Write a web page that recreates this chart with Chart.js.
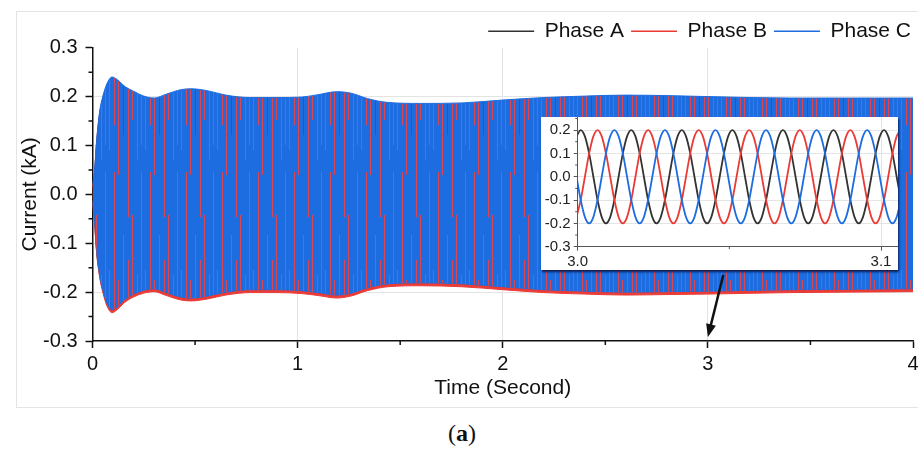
<!DOCTYPE html>
<html>
<head>
<meta charset="utf-8">
<script src="https://cdn.jsdelivr.net/npm/chart.js@4.4.1/dist/chart.umd.min.js"></script>
<style>
  html, body { margin: 0; padding: 0; background: #fff; overflow: hidden; }
  body { width: 918px; height: 450px; position: relative; font-family: "Liberation Sans", Arial, sans-serif; }
  #frame { position: absolute; left: 16px; top: 11px; width: 910px; height: 395px; border: 1px solid #e4e4e4; }
  #main { position: absolute; left: 0; top: 0; }
  #insetBox { position: absolute; left: 541px; top: 117px; width: 357px; height: 153px; background: #fff;
              box-shadow: 1px 2px 2px rgba(10, 20, 70, 0.9); }
  #inset { position: absolute; left: 0; top: 0; }
  #caption { position: absolute; left: 0; width: 924px; top: 420px; text-align: center;
             font: 24px "Liberation Serif", serif; color: #111; }
</style>
</head>
<body>
<div id="frame"></div>
<canvas id="main" width="918" height="410"></canvas>
<div id="insetBox"><canvas id="inset" width="357" height="153"></canvas></div>
<div id="caption">(<b>a</b>)</div>

<script>
// Phase currents, kA. Main plot: envelope of the fast oscillation over 0-4 s
const seriesNames = ['Phase A', 'Phase B', 'Phase C'];
const seriesColors = ['#333333', '#ea3b36', '#1d6de0'];

const envTime = [0, 0.01, 0.02, 0.035, 0.05, 0.07, 0.095, 0.12, 0.16, 0.2, 0.25, 0.3, 0.36, 0.43, 0.48, 0.56, 0.65, 0.77,
  0.9, 1.02, 1.1, 1.19, 1.26, 1.34, 1.44, 1.6, 1.8, 2.0, 2.2, 2.4, 2.6, 2.8, 3.0, 3.4, 3.7, 4.0];

const phaseAUpper = [0.014, 0.044, 0.104, 0.164, 0.194, 0.22, 0.234, 0.229, 0.214, 0.205, 0.195, 0.191, 0.199, 0.208, 0.21, 0.206, 0.197, 0.192,
  0.192, 0.193, 0.198, 0.204, 0.201, 0.19, 0.182, 0.18, 0.181, 0.187, 0.192, 0.195, 0.197, 0.196, 0.194, 0.191, 0.191, 0.191];
const phaseALower = [-0.016, -0.056, -0.116, -0.166, -0.196, -0.224, -0.238, -0.232, -0.216, -0.206, -0.198, -0.195, -0.203, -0.212, -0.214, -0.21, -0.202, -0.197,
  -0.197, -0.199, -0.203, -0.208, -0.204, -0.193, -0.185, -0.183, -0.185, -0.191, -0.197, -0.2, -0.202, -0.201, -0.2, -0.197, -0.196, -0.195];

const phaseBUpper = [0.016, 0.046, 0.106, 0.166, 0.196, 0.222, 0.236, 0.231, 0.216, 0.207, 0.197, 0.193, 0.201, 0.21, 0.212, 0.208, 0.199, 0.194,
  0.194, 0.195, 0.2, 0.206, 0.203, 0.192, 0.184, 0.182, 0.183, 0.189, 0.194, 0.197, 0.199, 0.198, 0.196, 0.193, 0.193, 0.193];
const phaseBLower = [-0.02, -0.06, -0.12, -0.17, -0.2, -0.228, -0.242, -0.236, -0.22, -0.21, -0.202, -0.199, -0.207, -0.216, -0.218, -0.214, -0.206, -0.201,
  -0.201, -0.203, -0.207, -0.212, -0.208, -0.197, -0.189, -0.187, -0.189, -0.195, -0.201, -0.204, -0.206, -0.205, -0.204, -0.201, -0.2, -0.199];

const phaseCUpper = [0.02, 0.05, 0.11, 0.17, 0.2, 0.226, 0.24, 0.235, 0.22, 0.211, 0.201, 0.197, 0.205, 0.214, 0.216, 0.212, 0.203, 0.198,
  0.198, 0.199, 0.204, 0.21, 0.207, 0.196, 0.188, 0.186, 0.187, 0.193, 0.198, 0.201, 0.203, 0.202, 0.2, 0.197, 0.197, 0.197];
const phaseCLower = [-0.014, -0.054, -0.114, -0.164, -0.194, -0.222, -0.236, -0.23, -0.214, -0.204, -0.196, -0.193, -0.201, -0.21, -0.212, -0.208, -0.2, -0.195,
  -0.195, -0.197, -0.201, -0.206, -0.202, -0.191, -0.183, -0.181, -0.183, -0.189, -0.195, -0.198, -0.2, -0.199, -0.198, -0.195, -0.194, -0.193];

// Inset: zoom on 3.0 - 3.1 s
const insetTime = [2.99960, 3.00099, 3.00238, 3.00377, 3.00516, 3.00654, 3.00793, 3.00932, 3.01071, 3.01210, 3.01349, 3.01488,
  3.01627, 3.01766, 3.01904, 3.02043, 3.02182, 3.02321, 3.02460, 3.02599, 3.02738, 3.02877, 3.03016, 3.03154,
  3.03293, 3.03432, 3.03571, 3.03710, 3.03849, 3.03988, 3.04127, 3.04266, 3.04404, 3.04543, 3.04682, 3.04821,
  3.04960, 3.05099, 3.05238, 3.05377, 3.05516, 3.05654, 3.05793, 3.05932, 3.06071, 3.06210, 3.06349, 3.06488,
  3.06627, 3.06766, 3.06904, 3.07043, 3.07182, 3.07321, 3.07460, 3.07599, 3.07738, 3.07877, 3.08016, 3.08154,
  3.08293, 3.08432, 3.08571, 3.08710, 3.08849, 3.08988, 3.09127, 3.09266, 3.09404, 3.09543, 3.09682, 3.09821,
  3.09960, 3.10099, 3.10238, 3.10377, 3.10516, 3.10654];

const insetA = [
  0.173, 0.2, 0.173, 0.1, 0, -0.1, -0.173, -0.2, -0.173, -0.1, 0, 0.1,
  0.173, 0.2, 0.173, 0.1, 0, -0.1, -0.173, -0.2, -0.173, -0.1, 0, 0.1,
  0.173, 0.2, 0.173, 0.1, 0, -0.1, -0.173, -0.2, -0.173, -0.1, 0, 0.1,
  0.173, 0.2, 0.173, 0.1, 0, -0.1, -0.173, -0.2, -0.173, -0.1, 0, 0.1,
  0.173, 0.2, 0.173, 0.1, 0, -0.1, -0.173, -0.2, -0.173, -0.1, 0, 0.1,
  0.173, 0.2, 0.173, 0.1, 0, -0.1, -0.173, -0.2, -0.173, -0.1, 0, 0.1,
  0.173, 0.2, 0.173, 0.1, 0, -0.1];
const insetB = [
  -0.173, -0.1, 0, 0.1, 0.173, 0.2, 0.173, 0.1, 0, -0.1, -0.173, -0.2,
  -0.173, -0.1, 0, 0.1, 0.173, 0.2, 0.173, 0.1, 0, -0.1, -0.173, -0.2,
  -0.173, -0.1, 0, 0.1, 0.173, 0.2, 0.173, 0.1, 0, -0.1, -0.173, -0.2,
  -0.173, -0.1, 0, 0.1, 0.173, 0.2, 0.173, 0.1, 0, -0.1, -0.173, -0.2,
  -0.173, -0.1, 0, 0.1, 0.173, 0.2, 0.173, 0.1, 0, -0.1, -0.173, -0.2,
  -0.173, -0.1, 0, 0.1, 0.173, 0.2, 0.173, 0.1, 0, -0.1, -0.173, -0.2,
  -0.173, -0.1, 0, 0.1, 0.173, 0.2];
const insetC = [
  0, -0.1, -0.173, -0.2, -0.173, -0.1, 0, 0.1, 0.173, 0.2, 0.173, 0.1,
  0, -0.1, -0.173, -0.2, -0.173, -0.1, 0, 0.1, 0.173, 0.2, 0.173, 0.1,
  0, -0.1, -0.173, -0.2, -0.173, -0.1, 0, 0.1, 0.173, 0.2, 0.173, 0.1,
  0, -0.1, -0.173, -0.2, -0.173, -0.1, 0, 0.1, 0.173, 0.2, 0.173, 0.1,
  0, -0.1, -0.173, -0.2, -0.173, -0.1, 0, 0.1, 0.173, 0.2, 0.173, 0.1,
  0, -0.1, -0.173, -0.2, -0.173, -0.1, 0, 0.1, 0.173, 0.2, 0.173, 0.1,
  0, -0.1, -0.173, -0.2, -0.173, -0.1];

// axis ticks
const xMinorTicks = [0.5, 1.5, 2.5, 3.5];
const yMinorTicks = [-0.25, -0.15, -0.05, 0.05, 0.15, 0.25];
const insetXTicks = [3.0, 3.1];
const insetYTicks = [-0.3, -0.2, -0.1, 0, 0.1, 0.2];
const insetXMinorTicks = [3.05];
const insetYMinorTicks = [-0.25, -0.15, -0.05, 0.05, 0.15, 0.25];

// arrow from inset down to t = 3 s
const arrowFrom = [3.075, -0.165];
const arrowTo = [3.0, -0.292];

Chart.defaults.font.family = '"Liberation Sans", Arial, sans-serif';
Chart.defaults.color = '#111';

const CLEAR = 'rgba(0,0,0,0)';

function points(xs, ys) {
    return xs.map((x, i) => ({ x: x, y: ys[i] }));
}

// streaky texture for the blue band (the aliased look of the dense 60 Hz wave).
// columns of red streaks, longer near the band edges, a few running through the middle
const streakCols = [1, 6, 10, 15, 20, 24, 29, 33];
const streakTop = [60, 35, 85, 45, 100, 30, 70, 55];
const streakBottom = [40, 90, 30, 75, 50, 95, 35, 65];
const streakMid = [0, 60, 0, 0, 45, 0, 0, 80];

function streakPattern(ctx, base, w, h) {
    const c = document.createElement('canvas');
    c.width = w;
    c.height = h;
    const g = c.getContext('2d');
    g.fillStyle = base;
    g.fillRect(0, 0, w, h);
    streakCols.forEach((x, k) => {
        g.fillStyle = k === 3 ? '#5a4a70' : '#dc4650';
        g.fillRect(x, 70, 1, 20 + streakTop[k]);
        g.fillStyle = '#dc4650';
        g.fillRect(x, 310 - streakBottom[k], 1, streakBottom[k]);
        if (streakMid[k]) g.fillRect(x, 160 + (k % 3) * 12, 1, streakMid[k]);
    });
    return ctx.createPattern(c, 'repeat');
}

function minorTickPlugin(id, xVals, yVals, len, color, width) {
    return {
        id: id,
        afterDraw(chart) {
            const { ctx, chartArea, scales } = chart;
            ctx.save();
            ctx.strokeStyle = color;
            ctx.lineWidth = width;
            ctx.beginPath();
            xVals.forEach(v => {
                const px = scales.x.getPixelForValue(v);
                ctx.moveTo(px, chartArea.bottom);
                ctx.lineTo(px, chartArea.bottom + len);
            });
            yVals.forEach(v => {
                const py = scales.y.getPixelForValue(v);
                ctx.moveTo(chartArea.left, py);
                ctx.lineTo(chartArea.left - len, py);
            });
            ctx.stroke();
            ctx.restore();
        }
    };
}

const arrowPlugin = {
    id: 'zoomArrow',
    afterDatasetsDraw(chart) {
        const { ctx, scales } = chart;
        const x0 = scales.x.getPixelForValue(arrowFrom[0]), y0 = scales.y.getPixelForValue(arrowFrom[1]);
        const x1 = scales.x.getPixelForValue(arrowTo[0]), y1 = scales.y.getPixelForValue(arrowTo[1]);
        const a = Math.atan2(y1 - y0, x1 - x0);
        const head = 13, half = 5;
        ctx.save();
        ctx.strokeStyle = '#111';
        ctx.fillStyle = '#111';
        ctx.lineWidth = 2.5;
        ctx.beginPath();
        ctx.moveTo(x0, y0);
        ctx.lineTo(x1 - Math.cos(a) * head * 0.8, y1 - Math.sin(a) * head * 0.8);
        ctx.stroke();
        ctx.beginPath();
        ctx.moveTo(x1, y1);
        ctx.lineTo(x1 - head * Math.cos(a) + half * Math.sin(a), y1 - head * Math.sin(a) - half * Math.cos(a));
        ctx.lineTo(x1 - head * Math.cos(a) - half * Math.sin(a), y1 - head * Math.sin(a) + half * Math.cos(a));
        ctx.closePath();
        ctx.fill();
        ctx.restore();
    }
};

function fmt1(v) {
    return Math.abs(v) < 1e-9 ? '0.0' : v.toFixed(1);
}

// ---------- main chart ----------
const mainCtx = document.getElementById('main').getContext('2d');
const blueFill = streakPattern(mainCtx, seriesColors[2], 36, 410);

function bandDatasets(upper, lower, color, fill) {
    return [
        { data: points(envTime, upper), borderColor: color, borderWidth: 1, backgroundColor: fill, fill: '+1',
          pointRadius: 0, cubicInterpolationMode: 'monotone' },
        { data: points(envTime, lower), borderColor: color, borderWidth: 1, fill: false,
          pointRadius: 0, cubicInterpolationMode: 'monotone' }
    ];
}

new Chart(mainCtx, {
    type: 'line',
    data: {
        datasets: [
            ...bandDatasets(phaseCUpper, phaseCLower, seriesColors[2], blueFill),
            ...bandDatasets(phaseBUpper, phaseBLower, seriesColors[1], seriesColors[1]),
            ...bandDatasets(phaseAUpper, phaseALower, seriesColors[0], seriesColors[0])
        ]
    },
    options: {
        responsive: false,
        animation: false,
        layout: { padding: { top: 13.7, left: 0, right: 0, bottom: 0 } },
        plugins: {
            tooltip: { enabled: false },
            legend: {
                position: 'top',
                align: 'end',
                maxHeight: 34,
                labels: {
                    usePointStyle: true,
                    pointStyleWidth: 46,
                    padding: 7,
                    color: '#111',
                    font: { size: 21 },
                    generateLabels: () => seriesNames.map((name, i) => ({
                        text: name,
                        fillStyle: seriesColors[i],
                        strokeStyle: seriesColors[i],
                        fontColor: '#111',
                        lineWidth: 1.5,
                        pointStyle: 'line',
                        hidden: false,
                        datasetIndex: 4 - i * 2
                    }))
                }
            }
        },
        scales: {
            x: {
                type: 'linear',
                min: 0,
                max: 4,
                ticks: { stepSize: 1, padding: 4, maxRotation: 0, font: { size: 20 }, color: '#111',
                         callback: v => String(v) },
                grid: {
                    color: c => (c.tick && (c.tick.value === 0 || c.tick.value === 4)) ? CLEAR : '#e3e3e3',
                    tickColor: '#111', tickLength: 7, tickWidth: 1.5
                },
                border: { color: '#111', width: 1.5 },
                title: { display: true, text: 'Time (Second)', color: '#111', font: { size: 21 },
                         padding: { top: 0, bottom: 9 } },
                afterFit(scale) {
                    scale.height = 69;
                    scale.paddingLeft = 0;
                    scale.paddingRight = 5;
                }
            },
            y: {
                type: 'linear',
                min: -0.3,
                max: 0.3,
                ticks: { stepSize: 0.1, padding: 8, font: { size: 20 }, color: '#111', callback: v => fmt1(v) },
                grid: {
                    color: c => (c.tick && Math.abs(Math.abs(c.tick.value) - 0.3) < 1e-6) ? CLEAR : '#e3e3e3',
                    tickColor: '#111', tickLength: 7, tickWidth: 1.5
                },
                border: { color: '#111', width: 1.5 },
                title: { display: true, text: 'Current (kA)', color: '#111', font: { size: 21 },
                         padding: { top: 18, bottom: 0 } },
                afterFit(scale) {
                    scale.width = 92.5;
                    scale.paddingTop = 0;
                    scale.paddingBottom = 0;
                }
            }
        }
    },
    plugins: [minorTickPlugin('mainMinor', xMinorTicks, yMinorTicks, 4, '#111', 1.5), arrowPlugin]
});

// ---------- inset ----------
const insetCtx = document.getElementById('inset').getContext('2d');
const insetSeries = [insetA, insetB, insetC];

new Chart(insetCtx, {
    type: 'line',
    data: {
        datasets: insetSeries.map((ys, i) => ({
            label: seriesNames[i],
            data: points(insetTime, ys),
            borderColor: seriesColors[i],
            borderWidth: 1.8,
            pointRadius: 0,
            fill: false,
            cubicInterpolationMode: 'monotone'
        })).reverse()
    },
    options: {
        responsive: false,
        animation: false,
        layout: { padding: 0 },
        plugins: { legend: { display: false }, tooltip: { enabled: false } },
        scales: {
            x: {
                type: 'linear',
                min: 3.0,
                max: 3.1056,
                afterBuildTicks(scale) { scale.ticks = insetXTicks.map(v => ({ value: v })); },
                ticks: { autoSkip: false, padding: 2, maxRotation: 0, font: { size: 15 }, color: '#222',
                         callback: v => fmt1(v) },
                grid: {
                    color: c => (c.tick && c.tick.value < 3.05) ? CLEAR : '#e4e4e4',
                    tickColor: '#555', tickLength: 4
                },
                border: { color: '#555', width: 1 },
                afterFit(scale) {
                    scale.height = 23.3;
                    scale.paddingLeft = 0;
                    scale.paddingRight = 0;
                }
            },
            y: {
                type: 'linear',
                min: -0.3,
                max: 0.256,
                afterBuildTicks(scale) { scale.ticks = insetYTicks.map(v => ({ value: v })); },
                ticks: { autoSkip: false, padding: 3, font: { size: 15 }, color: '#222', callback: v => fmt1(v) },
                grid: {
                    color: c => (c.tick && c.tick.value < -0.25) ? CLEAR : '#e4e4e4',
                    tickColor: '#555', tickLength: 4
                },
                border: { color: '#555', width: 1 },
                afterFit(scale) {
                    scale.width = 36.7;
                    scale.paddingTop = 0;
                    scale.paddingBottom = 0;
                }
            }
        }
    },
    plugins: [minorTickPlugin('insetMinor', insetXMinorTicks, insetYMinorTicks, 2.5, '#555', 1)]
});
</script>
</body>
</html>
